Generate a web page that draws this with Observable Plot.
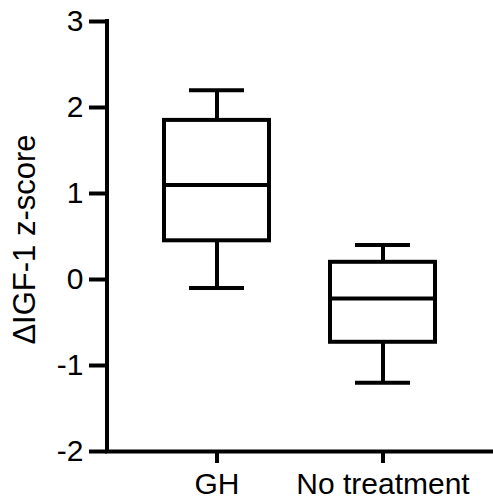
<!DOCTYPE html>
<html>
<head>
<meta charset="utf-8">
<script src="https://cdn.jsdelivr.net/npm/d3@7"></script>
<script src="https://cdn.jsdelivr.net/npm/@observablehq/plot@0.6"></script>
<style>
  html, body { margin: 0; padding: 0; background: white; }
  #chart svg { display: block; }
</style>
</head>
<body>
<div id="chart"></div>
<script>
const groups = ["GH", "No treatment"];
const mins = [-0.1, -1.2];
const q1s = [0.45, -0.73];
const medians = [1.1, -0.22];
const q3s = [1.85, 0.2];
const maxs = [2.2, 0.4];
const yTicks = [-2, -1, 0, 1, 2, 3];
const yLabel = "\u0394IGF-1 z-score";

const data = groups.map((g, i) => ({group: g, min: mins[i], q1: q1s[i], median: medians[i], q3: q3s[i], max: maxs[i]}));

const font = "'Liberation Sans', Arial, Helvetica, sans-serif";

function yAxisLine(index, scales, values, dimensions) {
  const y = scales.y;
  const x0 = dimensions.marginLeft;
  return d3.create("svg:line")
    .attr("x1", x0).attr("x2", x0)
    .attr("y1", y(d3.max(yTicks))).attr("y2", y(d3.min(yTicks)))
    .attr("stroke", "black").attr("stroke-width", 4)
    .attr("stroke-linecap", "square")
    .node();
}

const chart = Plot.plot({
  width: 493,
  height: 502,
  marginTop: 21,
  marginBottom: 51,
  marginLeft: 107,
  marginRight: 0,
  style: {fontFamily: font, background: "white", color: "black"},
  x: {type: "band", domain: groups, paddingInner: 0.367, paddingOuter: 0.346, axis: null},
  y: {domain: [d3.min(yTicks), d3.max(yTicks)], axis: null},
  marks: [
    Plot.ruleX(data, {x: "group", y1: "min", y2: "max", stroke: "black", strokeWidth: 4}),
    Plot.barY(data, {x: "group", y1: "q1", y2: "q3", fill: "white", stroke: "black", strokeWidth: 4}),
    Plot.tickY(data, {x: "group", y: "median", stroke: "black", strokeWidth: 4}),
    Plot.tickY(data, {x: "group", y: "min", stroke: "black", strokeWidth: 4, insetLeft: 25, insetRight: 25}),
    Plot.tickY(data, {x: "group", y: "max", stroke: "black", strokeWidth: 4, insetLeft: 25, insetRight: 25}),
    Plot.ruleY([d3.min(yTicks)], {stroke: "black", strokeWidth: 4, strokeLinecap: "square"}),
    yAxisLine,
    Plot.axisY({ticks: yTicks, tickSize: 18, tickPadding: 6, strokeWidth: 4, stroke: "black", fill: "black", fontSize: 30, label: null, tickFormat: d => String(d)}),
    Plot.axisX({tickSize: 12, tickPadding: 9, strokeWidth: 4, stroke: "black", fill: "black", fontSize: 30, label: null}),
    Plot.text([yLabel], {frameAnchor: "left", textAnchor: "middle", rotate: -90, dx: -82, dy: 3, fontSize: 31, fill: "black", fontFamily: font})
  ]
});
document.getElementById("chart").appendChild(chart);
</script>
</body>
</html>
